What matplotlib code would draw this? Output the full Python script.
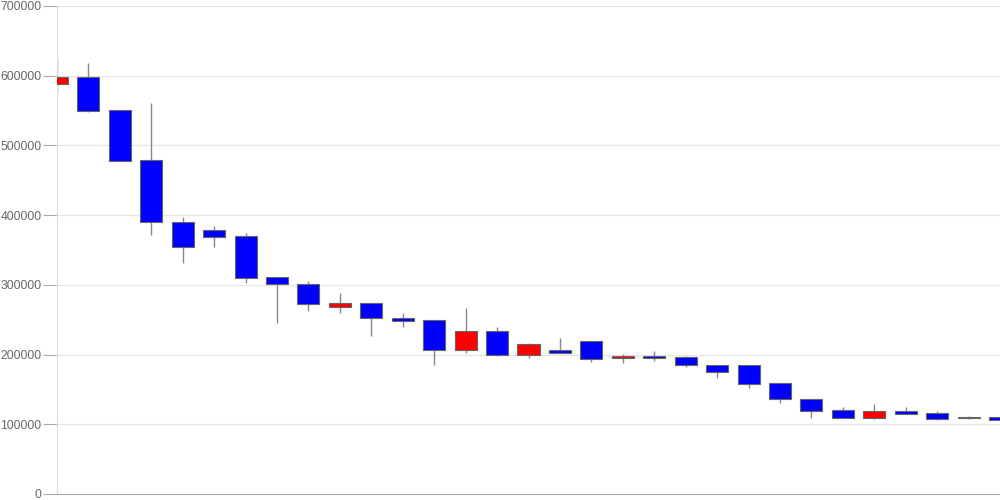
import numpy as np
import matplotlib
matplotlib.use('Agg')
import matplotlib.pyplot as plt
from matplotlib.ticker import MultipleLocator

####################################################################################

plt.rcParams['font.family'] = ['Liberation Sans', 'DejaVu Sans']

FIGURE_XSIZE = 10
FIGURE_YSIZE = 5

UP_RGB = '#ff0000'
DOWN_RGB = '#0000ff'
EDGE_RGB = '#666666'
WICK_RGB = '#888888'
GRID_RGB = '#e6e6e6'
LABEL_RGB = '#666666'

BODY_WIDTH = 0.7

####################################################################################

opens = [587700, 597700, 550400, 479100, 390600, 378700, 370100, 311300, 301200, 268700,
         273500, 252000, 249200, 206600, 233800, 199400, 206600, 219000, 194700, 197500,
         196100, 185500, 185500, 159700, 136300, 120000, 109000, 118600, 115800, 110000,
         110500]
closes = [597700, 549400, 478100, 389800, 354800, 369100, 310300, 300800, 272100, 273500,
          252000, 248600, 206600, 233800, 199400, 214700, 202700, 194100, 197500, 195500,
          185100, 174600, 157400, 135800, 119500, 109000, 118600, 115200, 107200, 109000,
          106600]
highs = [625000, 618700, 550400, 560400, 397800, 384400, 374000, 311300, 305500, 288800,
         273500, 259200, 249200, 266400, 239100, 217000, 223800, 219000, 200800, 205600,
         198400, 185500, 185500, 159700, 136300, 124400, 128700, 124400, 118600, 111900,
         110500]
lows = [574800, 548000, 477500, 371500, 331800, 354800, 303100, 244900, 263000, 260100,
        226700, 239100, 185500, 202700, 198000, 195500, 202700, 189400, 188400, 191200,
        182600, 166000, 152500, 131000, 108600, 108600, 108000, 114300, 106200, 107600,
        106000]

y_ticks = [0, 100000, 200000, 300000, 400000, 500000, 600000, 700000]

####################################################################################

def plot_candles():
    figure = plt.figure(figsize=(FIGURE_XSIZE, FIGURE_YSIZE), dpi=100, facecolor='white')
    axes = figure.add_axes([0.057, 0.012, 0.943, 0.976])

    x = np.arange(len(opens))
    o = np.array(opens)
    c = np.array(closes)
    colors = [UP_RGB if cl > op else DOWN_RGB for op, cl in zip(o, c)]

    axes.vlines(x, lows, highs, color=WICK_RGB, linewidth=1, zorder=2)
    axes.bar(x, np.abs(c - o), bottom=np.minimum(o, c), width=BODY_WIDTH,
             color=colors, edgecolor=EDGE_RGB, linewidth=0.8, zorder=3)

    axes.set_xlim(0, len(opens) - 1)
    axes.set_ylim(0, 700000)
    axes.set_yticks(y_ticks)
    axes.set_yticklabels([str(v) for v in y_ticks])
    axes.set_xticks([])

    axes.grid(axis='y', color=GRID_RGB, linewidth=1)
    axes.set_axisbelow(True)

    for side in ['top', 'right']:
        axes.spines[side].set_visible(False)
    axes.spines['left'].set_color('#dddddd')
    axes.spines['bottom'].set_color('#aaaaaa')
    axes.tick_params(axis='y', length=10, color='#aaaaaa', labelcolor=LABEL_RGB,
                     labelsize=8.7, pad=1)

    plt.savefig('out.png', dpi=100)

####################################################################################

plot_candles()
